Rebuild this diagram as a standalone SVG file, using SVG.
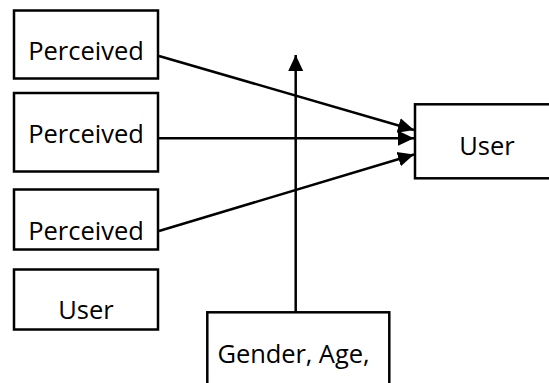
<svg xmlns="http://www.w3.org/2000/svg" width="549" height="383" viewBox="0 0 549 383">
<style>
.box{fill:#fff;stroke:#000;stroke-width:2.5}
.t{font-family:"Open Sans","Liberation Sans",sans-serif;font-size:25.5px;fill:#000;text-anchor:middle}
.c{stroke:#000;stroke-width:2.5;fill:none}
</style>
<defs>
<marker id="ah" markerUnits="userSpaceOnUse" markerWidth="17" markerHeight="16" refX="16" refY="8" orient="auto">
<path d="M0,0.5 L16,8 L0,15.5 Z" fill="#000"/>
</marker>
</defs>
<rect width="549" height="383" fill="#fff"/>
<g id="connectors">
<line class="c" x1="159" y1="56" x2="414" y2="130" marker-end="url(#ah)"/>
<line class="c" x1="159" y1="138.3" x2="414" y2="138.3" marker-end="url(#ah)"/>
<line class="c" x1="159" y1="231" x2="414" y2="154.5" marker-end="url(#ah)"/>
<line class="c" x1="295.7" y1="312" x2="295.7" y2="55" marker-end="url(#ah)"/>
</g>
<g id="n1"><rect class="box" x="14" y="10.5" width="144" height="68"/><text class="t" x="86" y="60">Perceived</text></g>
<g id="n2"><rect class="box" x="14" y="93" width="144" height="78.5"/><text class="t" x="86" y="143.3">Perceived</text></g>
<g id="n3"><rect class="box" x="14" y="189.5" width="144" height="60"/><text class="t" x="86" y="240">Perceived</text></g>
<g id="n4"><rect class="box" x="14" y="269.5" width="144" height="60"/><text class="t" x="86" y="319.3">User</text></g>
<g id="n5"><rect class="box" x="415" y="104.3" width="150" height="74"/><text class="t" x="487" y="155">User</text></g>
<g id="n6"><rect class="box" x="207.3" y="312.3" width="182" height="90"/><text class="t" x="293.5" y="362.7" textLength="152" lengthAdjust="spacing">Gender, Age,</text></g>
</svg>
